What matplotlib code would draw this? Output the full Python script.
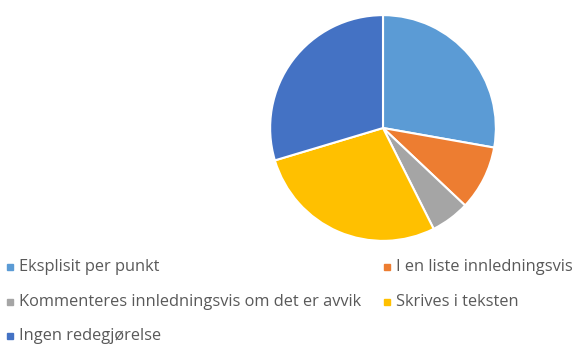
import matplotlib.pyplot as plt
from matplotlib.patches import Rectangle

# data
labels = ['Eksplisit per punkt', 'I en liste innledningsvis',
          'Kommenteres innledningsvis om det er avvik', 'Skrives i teksten',
          'Ingen redegjørelse']
values = [15, 5, 3, 15, 16]
colors = ['#5B9BD5', '#ED7D31', '#A5A5A5', '#FFC000', '#4472C4']

W, H = 577, 346
fig = plt.figure(figsize=(W / 100, H / 100), dpi=100)

# pie axes: centre and radius in pixels
cx, cy, r = 383, 128, 114
ax = fig.add_axes([(cx - r) / W, 1 - (cy + r) / H, 2 * r / W, 2 * r / H])
ax.pie(values, colors=colors, startangle=90, counterclock=False,
       wedgeprops=dict(edgecolor='white', linewidth=1.5))
ax.set_xlim(-1.01, 1.01)
ax.set_ylim(-1.01, 1.01)
ax.set_aspect('equal')

# legend drawn by hand (two columns, row by row)
slots = [(7, 267), (384, 267), (7, 302), (384, 302), (7, 336)]
for (x, y), lab, col in zip(slots, labels, colors):
    fig.patches.append(Rectangle((x / W, 1 - (y + 3) / H), 6 / W, 6 / H,
                                 transform=fig.transFigure, color=col))
    fig.text((x + 12) / W, 1 - y / H, lab, fontsize=11.8, color='#595959',
             family='Open Sans', va='center', ha='left')

fig.savefig('out.png', dpi=100)
